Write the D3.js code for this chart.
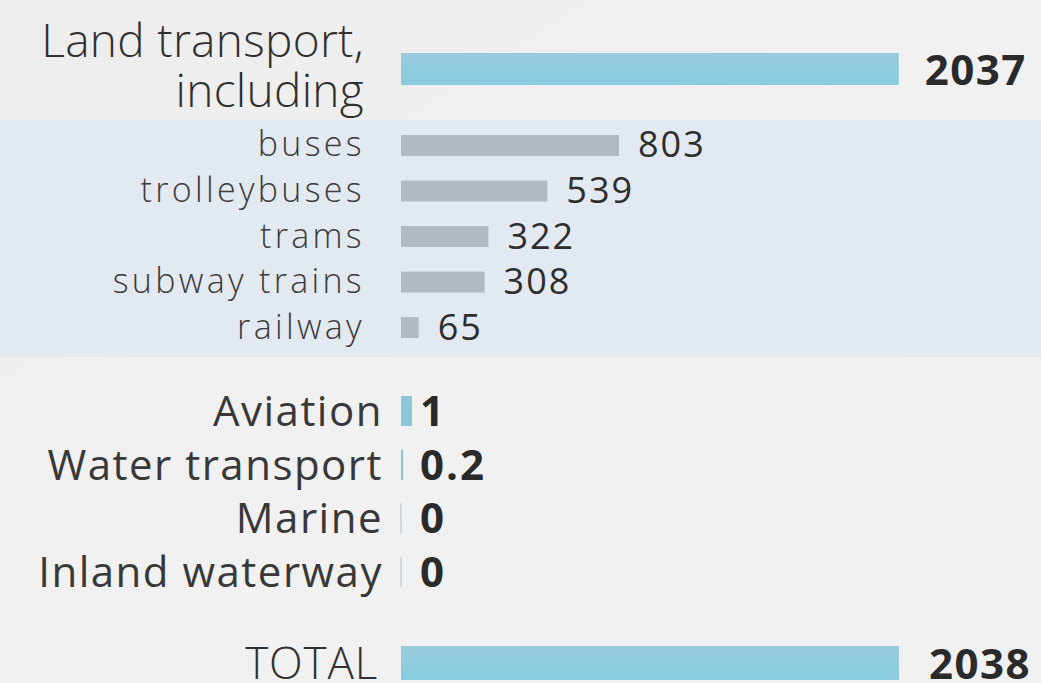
<!DOCTYPE html>
<html><head><meta charset="utf-8">
<script src="https://cdn.jsdelivr.net/npm/d3@7"></script>
<style>
html,body{margin:0;padding:0;background:#efefef;}
svg{display:block;}
text{font-family:"Open Sans","Noto Sans",sans-serif;}
</style></head>
<body>
<svg id="c" width="1041" height="683"></svg>
<script>
// Data
const mainCategories = ["Land transport,|including"];
const mainValues = [2037];
const subCategories = ["buses", "trolleybuses", "trams", "subway trains", "railway"];
const subValues = [803, 539, 322, 308, 65];
const otherCategories = ["Aviation", "Water transport", "Marine", "Inland waterway"];
const otherValues = [1, 0.2, 0, 0];
const otherLabels = ["1", "0.2", "0", "0"];
const totalCategories = ["TOTAL"];
const totalValues = [2038];

const svg = d3.select("#c");
const W = 1041, H = 683;

// background
const defs = svg.append("defs");
const bg = defs.append("linearGradient").attr("id","bg").attr("x1",0).attr("y1",0).attr("x2",1).attr("y2",1);
bg.append("stop").attr("offset","0%").attr("stop-color","#ededed");
bg.append("stop").attr("offset","50%").attr("stop-color","#f1f1f1");
bg.append("stop").attr("offset","100%").attr("stop-color","#f0f0f0");
svg.append("rect").attr("width",W).attr("height",H).attr("fill","url(#bg)");
const bar = defs.append("linearGradient").attr("id","barg").attr("x1",0).attr("y1",0).attr("x2",0).attr("y2",1);
bar.append("stop").attr("offset","0%").attr("stop-color","#98cbdc");
bar.append("stop").attr("offset","100%").attr("stop-color","#88cbe0");

// band behind sub-items
const yBand = d3.scaleLinear().domain([0,1]).range([120,357]);
svg.append("rect").attr("x",0).attr("width",W).attr("y",yBand(0)).attr("height",yBand(1)-yBand(0)).attr("fill","#e3e9f0");

const x0 = 401;
// main scale (polylinear so that tiny values remain visible)
const xMain = d3.scaleLinear().domain([0, 1, 2038]).range([0, 11, 498]);
const xSub = d3.scaleLinear().domain([0, 803]).range([0, 218]);

// Land transport
const yLand = d3.scaleBand().domain(mainCategories).range([53, 85]).padding(0);
mainCategories.forEach((c,i)=>{
  const y = yLand(c), h = yLand.bandwidth();
  svg.append("rect").attr("x",x0).attr("y",y).attr("width",xMain(mainValues[i])).attr("height",h).attr("fill","url(#barg)");
  const lines = c.split("|");
  svg.append("text").attr("x",364).attr("y",57).attr("text-anchor","end").attr("font-size",46).attr("font-weight",300)
    .attr("letter-spacing",0.3).attr("fill","#303030").text(lines[0]);
  svg.append("text").attr("x",364).attr("y",107).attr("text-anchor","end").attr("font-size",46).attr("font-weight",300)
    .attr("letter-spacing",0.3).attr("fill","#303030").text(lines[1]);
  svg.append("text").attr("x",x0+xMain(mainValues[i])+26).attr("y",85)
    .attr("font-size",42).attr("font-weight",700).attr("letter-spacing",1.5).attr("fill","#2a2a2a").text(mainValues[i]);
});

// sub items
const ySub = d3.scaleBand().domain(subCategories).range([135, 338]).paddingInner(0.54).paddingOuter(0);
subCategories.forEach((c,i)=>{
  const y = ySub(c), h = ySub.bandwidth(), cy = y+h/2;
  svg.append("rect").attr("x",x0).attr("y",y).attr("width",xSub(subValues[i])).attr("height",h).attr("fill","#b3babf");
  svg.append("text").attr("x",365).attr("y",cy+11).attr("text-anchor","end")
    .attr("font-size",34).attr("font-weight",300).attr("letter-spacing",3.3).attr("fill","#3c3c3c").text(c);
  svg.append("text").attr("x",x0+xSub(subValues[i])+19).attr("y",cy+12)
    .attr("font-size",36).attr("font-weight",400).attr("letter-spacing",2).attr("fill","#2e2e2e").text(subValues[i]);
});

// other items
const yOther = d3.scaleBand().domain(otherCategories).range([396, 587]).paddingInner(0.44).paddingOuter(0);
otherCategories.forEach((c,i)=>{
  const y = yOther(c), h = yOther.bandwidth(), cy = y+h/2;
  const w = Math.max(xMain(otherValues[i]), 2);
  svg.append("rect").attr("x", otherValues[i]===0 ? x0-1 : x0).attr("y",y).attr("width",w).attr("height",h)
    .attr("fill", otherValues[i]===0 ? "#cdd6da" : "#8cc6da");
  svg.append("text").attr("x",383).attr("y",cy+15).attr("text-anchor","end")
    .attr("font-size",42).attr("font-weight",400).attr("letter-spacing",1.5).attr("fill","#383838").text(c);
  svg.append("text").attr("x",420).attr("y",cy+15)
    .attr("font-size",42).attr("font-weight",700).attr("letter-spacing",2).attr("fill","#2a2a2a").text(otherLabels[i]);
});

// total
const yTot = d3.scaleBand().domain(totalCategories).range([646, 680]).padding(0);
totalCategories.forEach((c,i)=>{
  const y = yTot(c), h = yTot.bandwidth(), cy = y+h/2;
  svg.append("rect").attr("x",x0).attr("y",y).attr("width",xMain(totalValues[i])).attr("height",h).attr("fill","url(#barg)");
  svg.append("text").attr("x",378).attr("y",679).attr("text-anchor","end")
    .attr("font-size",44).attr("font-weight",300).attr("letter-spacing",0.8).attr("fill","#303030").text(c);
  svg.append("text").attr("x",x0+xMain(totalValues[i])+30).attr("y",679)
    .attr("font-size",42).attr("font-weight",700).attr("letter-spacing",1.5).attr("fill","#2a2a2a").text(totalValues[i]);
});
</script>
</body></html>
